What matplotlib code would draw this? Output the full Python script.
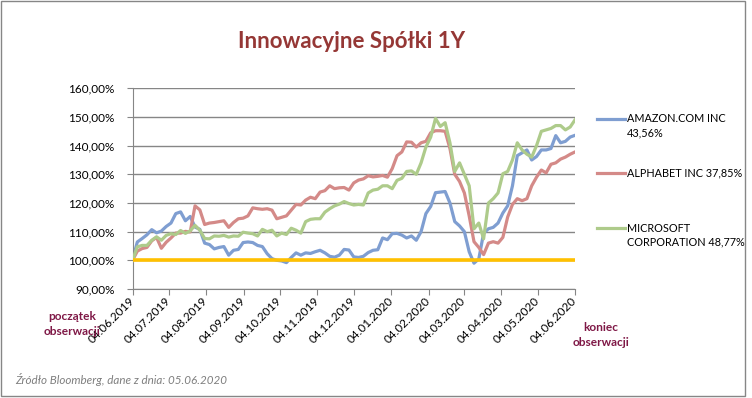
import matplotlib.pyplot as plt
import matplotlib.dates as mdates
from matplotlib.lines import Line2D
from matplotlib.patches import Rectangle
from matplotlib.ticker import FuncFormatter, MultipleLocator
import pandas as pd

plt.rcParams['font.family'] = ['Lato', 'DejaVu Sans']

# --- dane (co ok. 4 dni) ---
start_date = '2019-06-04'
end_date = '2020-06-04'

amazon = [100, 106.4, 107.6, 108.9, 110.7, 109.6, 110.2, 111.8, 113, 116.3,
          116.9, 113.8, 115.3, 111.6, 110.8, 106, 105.5, 104, 104.5, 104.8,
          101.8, 103.5, 103.8, 106.2, 106.4, 106.2, 105.2, 104.8, 102.3, 100.6,
          100, 99.8, 99.2, 101, 102.6, 101.8, 102.6, 102.4, 103, 103.5,
          102.6, 101.4, 101.1, 101.8, 103.8, 103.6, 101.2, 101, 101.4, 102.7,
          103.5, 103.7, 107.8, 107.2, 109.3, 109.4, 108.8, 107.8, 108.5, 107,
          110, 116.3, 118.8, 123.6, 123.8, 124, 120, 113.5, 112, 110,
          103, 99, 100.5, 109.5, 111, 111.5, 113, 116.5, 119, 126,
          136.5, 137.5, 138.5, 135, 136.2, 138.5, 138.5, 139, 143.5, 141,
          141.5, 143, 143.6]

alphabet = [100, 103.2, 104.1, 104.5, 106.8, 108, 104.2, 106.3, 107.8, 109.5,
            109.5, 110.1, 109.9, 119, 117.6, 112.5, 113, 113.2, 113.5, 113.8,
            111.5, 113.2, 114.5, 114.7, 115.5, 118.3, 118, 117.8, 118, 117.5,
            114.5, 115, 115.5, 117.5, 119.5, 119.3, 121, 122, 121.5, 123.8,
            124.3, 126, 125, 125.3, 125.4, 124.5, 127, 128, 128.4, 129.5,
            129.1, 129.3, 129.6, 129, 132, 136.5, 137.8, 141.3, 141.2, 139.5,
            141, 141.5, 144.5, 145.2, 145.2, 145, 139, 130, 127.5, 123.5,
            115.5, 106.5, 104.5, 102, 106, 106.5, 106, 108, 115.1, 119.5,
            121.5, 120.8, 121.5, 126, 129, 131.5, 130.5, 133.5, 134, 135.3,
            136, 137, 137.8]

microsoft = [100, 104.7, 105.2, 105.2, 107, 108.2, 107, 108.7, 109.3, 109,
             110.4, 109.4, 110.3, 112.2, 110.5, 107.6, 107.5, 108.5, 108.4, 108.7,
             108.1, 108.5, 108.4, 109.8, 109.5, 109.3, 108.5, 110.8, 110, 110.5,
             108.5, 109.5, 109, 111.2, 110.5, 109.5, 113.5, 114.3, 114.5, 114.5,
             116.8, 118, 119, 119.6, 120.5, 119.8, 119.3, 119.5, 119.3, 123.5,
             124.5, 124.8, 126, 126, 125, 127.9, 128.6, 131, 131.2, 130,
             134, 139.5, 143, 149.5, 146.7, 148, 141, 131, 134, 130,
             126, 111, 113, 107.5, 120, 121.5, 123.5, 130.2, 131, 135,
             141, 138.5, 137, 136, 140, 145, 145.5, 146, 147, 147,
             145.5, 146.5, 149]

series_names = ['AMAZON.COM INC\n43,56%', 'ALPHABET INC 37,85%', 'MICROSOFT\nCORPORATION 48,77%']
series_colors = ['#7F9ED1', '#D48A88', '#AECB8B']
baseline = 100

dates = pd.date_range(start_date, end_date, periods=len(amazon))
tick_dates = pd.date_range(start_date, end_date, freq=pd.DateOffset(months=1))

W, H = 752, 398
fig = plt.figure(figsize=(W / 100, H / 100), dpi=100)


def fx(px):
    return px / W


def fy(py):
    return 1 - py / H


ax = fig.add_axes([fx(132.5), fy(289), fx(575) - fx(132.5), fy(88.3) - fy(289)])

grid_col = '#868686'
for vals, col, z in zip([amazon, alphabet, microsoft], series_colors, [2, 3, 4]):
    ax.plot(dates, vals, color=col, lw=2.3, zorder=z, solid_joinstyle='round')
ax.axhline(baseline, color='#FFC000', lw=2.6, zorder=5)

ax.set_ylim(90, 160)
ax.yaxis.set_major_locator(MultipleLocator(10))
ax.yaxis.set_major_formatter(FuncFormatter(lambda v, p: f'{v:.2f}%'.replace('.', ',')))
ax.set_xlim(pd.Timestamp(start_date), pd.Timestamp(end_date))
ax.set_xticks(tick_dates)
ax.xaxis.set_major_formatter(mdates.DateFormatter('%d.%m.%Y'))
ax.grid(axis='y', color=grid_col, lw=1)
ax.set_axisbelow(True)
for s in ['top', 'right']:
    ax.spines[s].set_visible(False)
for s in ['left', 'bottom']:
    ax.spines[s].set_color(grid_col)
ax.tick_params(axis='both', color=grid_col, length=4, labelsize=8.5, labelcolor='black')
ax.tick_params(axis='y', pad=9)
plt.setp(ax.get_xticklabels(), rotation=45, ha='right', va='center', rotation_mode='anchor')

fig.text(fx(352), fy(42), 'Innowacyjne Spółki 1Y', ha='center', va='center',
         fontsize=16, fontweight='bold', color='#953735')

# legenda
legend_y = [[118.5, 133.3], [172.7], [228, 242.5]]
for name, col, ys in zip(series_names, series_colors, legend_y):
    fig.add_artist(Line2D([fx(597), fx(625)], [fy(ys[0]), fy(ys[0])], color=col, lw=2.3))
    fig.text(fx(627), fy(sum(ys) / len(ys)), name, ha='left', va='center',
             fontsize=7.8, linespacing=1.35)

ann_col = '#7F1846'
fig.text(fx(72.5), fy(324), 'początek\nobserwacji', ha='center', va='center',
         fontsize=8.6, fontweight='bold', color=ann_col, linespacing=1.45)
fig.text(fx(601), fy(335), 'koniec\nobserwacji', ha='center', va='center',
         fontsize=8.6, fontweight='bold', color=ann_col, linespacing=1.45)
fig.text(fx(15), fy(380), 'Źródło Bloomberg, dane z dnia: 05.06.2020', ha='left', va='center',
         fontsize=8.4, style='italic', color='#7F7F7F')

fig.add_artist(Rectangle((fx(1.5), fy(395.5)), fx(745) - fx(1.5), fy(1) - fy(395.5),
                         fill=False, edgecolor=grid_col, lw=1))

fig.savefig('out.png', dpi=100)
